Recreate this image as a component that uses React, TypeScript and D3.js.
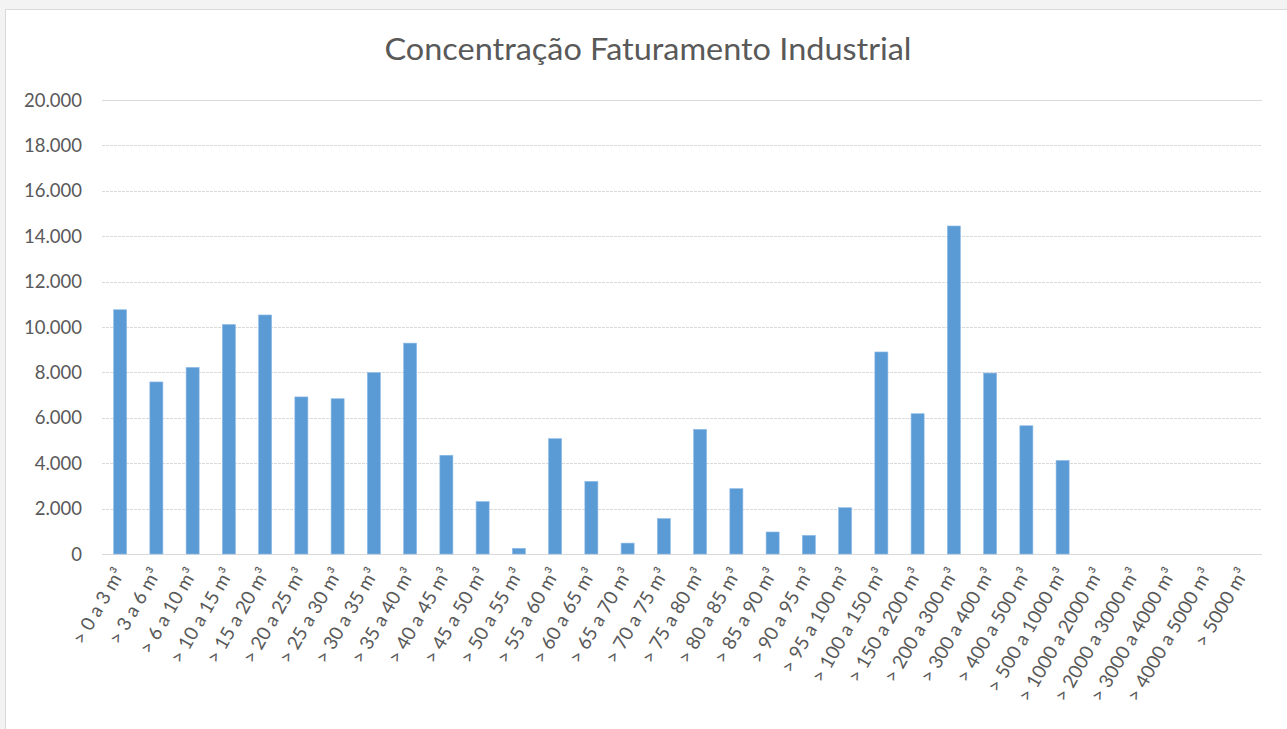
import React, { useEffect, useRef } from "react";
import * as d3 from "d3";

const categories = [
  "> 0 a 3 m³", "> 3 a 6 m³", "> 6 a 10 m³", "> 10 a 15 m³", "> 15 a 20 m³",
  "> 20 a 25 m³", "> 25 a 30 m³", "> 30 a 35 m³", "> 35 a 40 m³", "> 40 a 45 m³",
  "> 45 a 50 m³", "> 50 a 55 m³", "> 55 a 60 m³", "> 60 a 65 m³", "> 65 a 70 m³",
  "> 70 a 75 m³", "> 75 a 80 m³", "> 80 a 85 m³", "> 85 a 90 m³", "> 90 a 95 m³",
  "> 95 a 100 m³", "> 100 a 150 m³", "> 150 a 200 m³", "> 200 a 300 m³", "> 300 a 400 m³",
  "> 400 a 500 m³", "> 500 a 1000 m³", "> 1000 a 2000 m³", "> 2000 a 3000 m³",
  "> 3000 a 4000 m³", "> 4000 a 5000 m³", "> 5000 m³",
];

const values = [
  10760, 7580, 8220, 10110, 10530, 6920, 6840, 7990, 9290, 4350,
  2310, 250, 5080, 3200, 480, 1560, 5490, 2880, 970, 820,
  2040, 8900, 6180, 14450, 7970, 5650, 4120, 0, 0, 0, 0, 0,
];

const yTicks = [0, 2000, 4000, 6000, 8000, 10000, 12000, 14000, 16000, 18000, 20000];

const title = "Concentração Faturamento Industrial";

const W = 1287;
const H = 729;
const M = { left: 102, right: 1262, top: 100, bottom: 554 };
const FONT = "Lato, 'Open Sans', sans-serif";

export default function App() {
  const ref = useRef<SVGSVGElement>(null);

  useEffect(() => {
    const svg = d3.select(ref.current);
    svg.selectAll("*").remove();

    svg.append("rect").attr("x", 0).attr("y", 0).attr("width", W).attr("height", H).attr("fill", "#f3f3f3");
    svg.append("rect").attr("x", 5.5).attr("y", 9.5).attr("width", W + 10).attr("height", H + 10)
      .attr("fill", "#ffffff").attr("stroke", "#d9d9d9").attr("stroke-width", 1);

    const x = d3.scaleBand<string>().domain(categories).range([M.left, M.right]).paddingInner(0.64).paddingOuter(0.32);
    const y = d3.scaleLinear().domain([0, 20000]).range([M.bottom, M.top]);

    const fmt = (v: number) => (v === 0 ? "0" : d3.format(",")(v).replace(/,/g, "."));

    // gridlines
    svg.append("g").selectAll("line").data(yTicks).join("line")
      .attr("x1", M.left).attr("x2", M.right)
      .attr("y1", (d) => Math.round(y(d)) + 0.5).attr("y2", (d) => Math.round(y(d)) + 0.5)
      .attr("stroke", "#d9d9d9").attr("stroke-width", 1.2)
      .attr("stroke-dasharray", (d) => (d === 20000 || d === 0 ? null : "3,1"));

    // y labels
    svg.append("g").selectAll("text").data(yTicks).join("text")
      .attr("x", 82).attr("y", (d) => y(d)).attr("dy", "0.36em")
      .attr("text-anchor", "end").attr("font-family", FONT).attr("font-size", 18.5)
      .attr("fill", "#595959").text((d) => fmt(d));

    // bars
    svg.append("g").selectAll("rect").data(values).join("rect")
      .attr("x", (_d, i) => x(categories[i])!)
      .attr("width", x.bandwidth())
      .attr("y", (d) => y(d))
      .attr("height", (d) => y(0) - y(d))
      .attr("fill", "#5b9bd5")
      .attr("stroke", "#8fbbe6").attr("stroke-width", 0.6);

    // x labels
    svg.append("g").selectAll("text").data(categories).join("text")
      .attr("transform", (d) => `translate(${x(d)! + x.bandwidth() / 2 + 5},${M.bottom + 19}) rotate(-60)`)
      .attr("text-anchor", "end").attr("font-family", FONT).attr("font-size", 19)
      .attr("fill", "#595959").text((d) => d);

    // title
    svg.append("text").attr("x", 648).attr("y", 60).attr("text-anchor", "middle")
      .attr("font-family", FONT).attr("font-size", 30).attr("fill", "#595959")
      .attr("textLength", 527).attr("lengthAdjust", "spacingAndGlyphs").text(title);
  }, []);

  return (
    <svg ref={ref} width={W} height={H} style={{ position: "absolute", left: 0, top: 0, display: "block" }} />
  );
}
